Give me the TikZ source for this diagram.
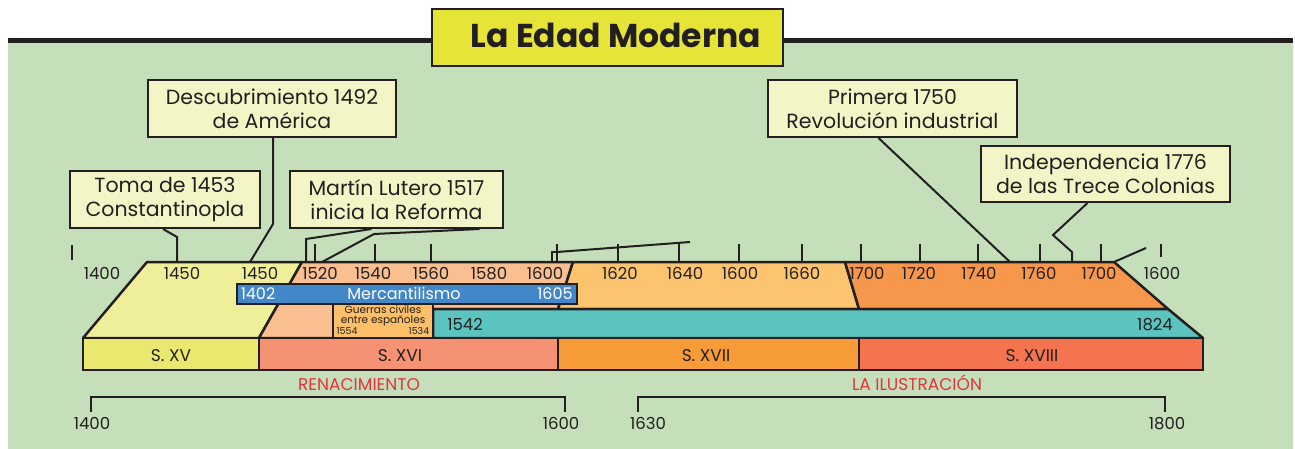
\documentclass[tikz,border=0pt]{standalone}
\usepackage{fontspec}
\setmainfont{Poppins}
\definecolor{bg}{HTML}{C5DFBB}
\definecolor{dk}{HTML}{231F20}
\definecolor{titlef}{HTML}{E5E437}
\definecolor{boxf}{HTML}{F3F5C7}
\definecolor{yel}{HTML}{EFEF9A}
\definecolor{xv}{HTML}{EAE86F}
\definecolor{lor}{HTML}{F9BF90}
\definecolor{orn}{HTML}{FCC46F}
\definecolor{dor}{HTML}{F7974B}
\definecolor{teal}{HTML}{5BC4BF}
\definecolor{blu}{HTML}{4287C8}
\definecolor{xvi}{HTML}{F59274}
\definecolor{xvii}{HTML}{F79A38}
\definecolor{xviii}{HTML}{F4744F}
\definecolor{guer}{HTML}{FDBF67}
\definecolor{redt}{HTML}{E2343F}
\newcommand\boxfont{\fontsize{20.5}{24}\selectfont}
\newcommand\yrfont{\fontsize{16.5}{18}\selectfont}
\begin{document}
\begin{tikzpicture}[x=1pt,y=-1pt,
  evbox/.style={draw=dk, line width=2pt, fill=boxf, align=center, inner sep=0pt, font=\boxfont, text=dk},
  yr/.style={font=\yrfont, text=dk, anchor=base, inner sep=0pt},
  cent/.style={font=\fontsize{17}{19}\selectfont, text=dk, anchor=base, inner sep=0pt},
  era/.style={font=\fontsize{17}{19}\selectfont, text=redt, anchor=base, inner sep=0pt},
  mtext/.style={font=\fontsize{16}{18}\selectfont, text=white, anchor=base, inner sep=0pt},
  gtext/.style={font=\fontsize{10.5}{11}\selectfont, text=dk, inner sep=0pt, anchor=base},
  gyr/.style={font=\fontsize{9.5}{10}\selectfont, text=dk, inner sep=0pt, anchor=base},
  region/.style={draw=dk, line width=2.5pt, line join=round},
  bar/.style={draw=dk, line width=2.5pt},
  tick/.style={draw=dk, line width=2pt},
  conn/.style={draw=dk, line width=2pt},
  brk/.style={draw=dk, line width=2pt}]
\useasboundingbox (0,0) rectangle (1295,449);
% background
\fill[bg] (8,43) rectangle (1293,449);
\fill[dk] (8,38) rectangle (1293,43.5);
\node[draw=dk, line width=2pt, fill=titlef, minimum width=351, minimum height=57, inner sep=0pt] (title) at (607.5,38) {};
\node[font=\fontsize{33}{36}\selectfont\bfseries, text=dk, anchor=base, inner sep=0pt] (titletext) at (616,48) {La Edad Moderna};

% regions
\path[region, fill=yel] (147,262) -- (302,262) -- (259,338) -- (83,338) -- cycle;
\path[region, fill=lor] (302,262) -- (573,262) -- (558,309) -- (433,309) -- (433,338) -- (259,338) -- cycle;
\path[region, fill=orn] (573,262) -- (845,262) -- (859,309) -- (558,309) -- cycle;
\path[region, fill=dor] (845,262) -- (1114,262) -- (1168,309) -- (859,309) -- cycle;
\path[region, fill=teal] (433,309) -- (1168,309) -- (1203,338) -- (433,338) -- cycle;
\path[draw=dk, line width=1.5pt, fill=guer] (333,304) rectangle (433,338);
\node[gtext] (guerras) at (383,313) {Guerras civiles};
\node[gtext] (guerras2) at (383,323.5) {entre españoles};
\node[gyr] (g1554) at (347,334) {1554};
\node[gyr] (g1534) at (419,334) {1534};
% mercantilismo
\path[bar, line width=2pt, fill=blu] (237,284) rectangle (577,304);
\node[mtext] (m1402) at (258,299) {1402};
\node[mtext] (merc) at (404,299) {Mercantilismo};
\node[mtext] (m1605) at (555,299) {1605};
\node[yr] (t1542) at (465,330) {1542};
\node[yr] (t1824) at (1155,330) {1824};

% century bars
\path[bar, fill=xv] (83,338) rectangle (259,370);
\path[bar, fill=xvi] (259,338) rectangle (558,370);
\path[bar, fill=xvii] (558,338) rectangle (859,370);
\path[bar, fill=xviii] (859,338) rectangle (1203,370);
\node[cent] (sxv) at (171,361) {S. XV};
\node[cent] (sxvi) at (400,361) {S. XVI};
\node[cent] (sxvii) at (706,361) {S. XVII};
\node[cent] (sxviii) at (1032,361) {S. XVIII};

% ticks
\foreach \x in {315,375,431,557,618,679,739,802,861,920,978,1040,1101}
  \draw[tick] (\x,244) -- (\x,262);
\draw[tick] (72,245) -- (72,260);
\draw[tick] (1161,244) -- (1161,257);
\draw[conn] (552,262) -- (552,252) -- (557,252);
\coordinate (e1600) at (557,252);
\coordinate (e1640) at (690,242);
\draw[conn] (e1600) -- (e1640);
\coordinate (e1700) at (1114,262);
\coordinate (e1600b) at (1146,248);
\draw[conn] (e1700) -- (e1600b);

% axis labels
\foreach \x/\t in {102/1400,182/1450,260/1450,320/1520,373/1540,431/1560,489/1580,545/1600,620/1620,685/1640,740/1600,802/1660,867/1700,919/1720,979/1740,1039/1760,1099/1700,1162/1600}
  \node[yr] at (\x,279) {\t};

% era labels and brackets
\node[era] (ren) at (359,390) {RENACIMIENTO};
\node[era] (ilu) at (917,390) {LA ILUSTRACIÓN};
\draw[brk] (91,412) -- (91,397) -- (565,397) -- (565,412);
\draw[brk] (638,412) -- (638,397) -- (1165,397) -- (1165,412);
\node[yr] (b1400) at (92,429) {1400};
\node[yr] (b1600) at (561,429) {1600};
\node[yr] (b1630) at (648,429) {1630};
\node[yr] (b1800) at (1167,429) {1800};

% event boxes
\node[evbox, minimum width=248, minimum height=57] (desc) at (272,108.5) {Descubrimiento 1492\\de América};
\node[evbox, minimum width=190, minimum height=57] (toma) at (165,199.5) {Toma de 1453\\Constantinopla};
\node[evbox, minimum width=213, minimum height=57] (lutero) at (396.5,199.5) {Martín Lutero 1517\\inicia la Reforma};
\node[evbox, minimum width=249, minimum height=57] (primera) at (892.5,108.5) {Primera 1750\\Revolución industrial};
\node[evbox, minimum width=249, minimum height=56] (indep) at (1105.5,174) {Independencia 1776\\de las Trece Colonias};

% connectors
\coordinate (aToma) at (177,262);
\coordinate (aDesc) at (250,262);
\coordinate (aLut1) at (306,262);
\coordinate (aLut2) at (322,262);
\coordinate (aPrim) at (1010,262);
\coordinate (aInd) at (1072,262);
\draw[conn] ([xshift=-2pt]toma.south) -- (177,237) -- (aToma);
\draw[conn] ([xshift=1pt]desc.south) -- (273,224) -- (aDesc);
\draw[conn] ([xshift=-25pt]lutero.south) -- (306,239) -- (aLut1);
\draw[conn] ([xshift=83pt]lutero.south) -- (374,234) -- (aLut2);
\draw[conn] ([xshift=-14pt]primera.south) -- (aPrim);
\draw[conn] ([xshift=-18pt]indep.south) -- (1053,235) -- (1072,252) -- (aInd);
\end{tikzpicture}
\end{document}
